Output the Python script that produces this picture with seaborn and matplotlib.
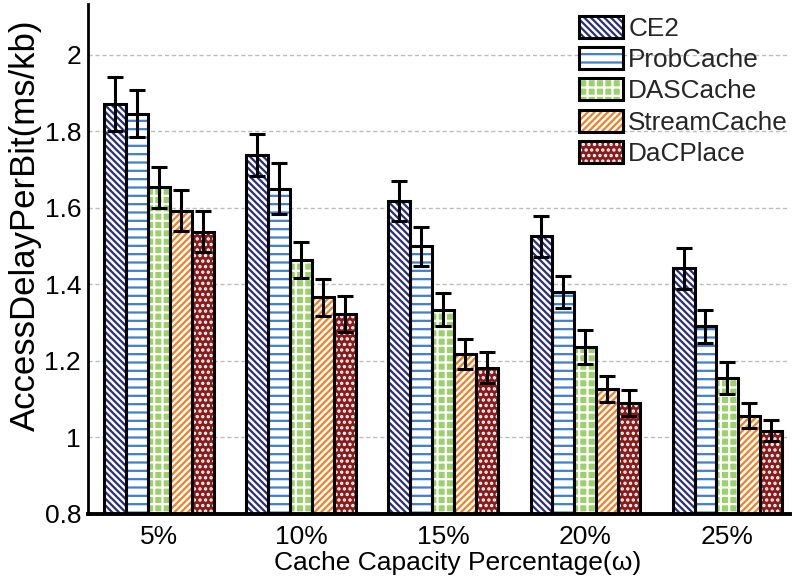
import matplotlib
matplotlib.use("Agg")
import matplotlib.pyplot as plt
from matplotlib.patches import Patch, Rectangle
from matplotlib.ticker import FuncFormatter
import pandas as pd
import seaborn as sns

# ---- data -------------------------------------------------------------
capacities = ["5%", "10%", "15%", "20%", "25%"]
schemes = ["CE2", "ProbCache", "DASCache", "StreamCache", "DaCPlace"]

ce2 = [1.872, 1.739, 1.618, 1.526, 1.442]
ce2_err = [0.070, 0.055, 0.053, 0.054, 0.054]
probcache = [1.846, 1.650, 1.500, 1.380, 1.290]
probcache_err = [0.061, 0.067, 0.051, 0.043, 0.043]
dascache = [1.654, 1.464, 1.334, 1.236, 1.155]
dascache_err = [0.054, 0.048, 0.044, 0.044, 0.041]
streamcache = [1.593, 1.366, 1.219, 1.126, 1.057]
streamcache_err = [0.054, 0.049, 0.039, 0.034, 0.033]
dacplace = [1.538, 1.323, 1.182, 1.089, 1.018]
dacplace_err = [0.053, 0.047, 0.041, 0.034, 0.028]

y_ticks = [0.8, 1.0, 1.2, 1.4, 1.6, 1.8, 2.0]

values = [ce2, probcache, dascache, streamcache, dacplace]
errors = [ce2_err, probcache_err, dascache_err, streamcache_err, dacplace_err]

# fill colour, hatch pattern, hatch colour for each scheme
styles = {
    "CE2":         ("white",   "\\" * 5, "#2A2D7C"),
    "ProbCache":   ("white",   "--",     "#3F7FCB"),
    "DASCache":    ("#9CD06B", "++",     "white"),
    "StreamCache": ("white",   "/" * 5,  "#F47F22"),
    "DaCPlace":    ("#8B1A1A", "...",    "white"),
}

rows = []
for name, vals in zip(schemes, values):
    for cap, v in zip(capacities, vals):
        rows.append({"capacity": cap, "scheme": name, "delay": v})
df = pd.DataFrame(rows)

# ---- figure -----------------------------------------------------------
sns.set_theme(style="white")
plt.rcParams["font.family"] = ["Liberation Sans", "DejaVu Sans"]
plt.rcParams["hatch.linewidth"] = 1.6

fig, ax = plt.subplots(figsize=(7.93, 5.8), dpi=100)
fig.subplots_adjust(left=0.111, right=0.996, bottom=0.114, top=0.993)

sns.barplot(data=df, x="capacity", y="delay", hue="scheme",
            order=capacities, hue_order=schemes, width=0.77,
            errorbar=None, legend=False, ax=ax)

for name, container, errs in zip(schemes, ax.containers, errors):
    face, hatch, hcol = styles[name]
    xs, ys = [], []
    for bar in container:
        bar.set_facecolor(face)
        bar.set_edgecolor(hcol)
        bar.set_hatch(hatch)
        bar.set_linewidth(0)
        ax.add_patch(Rectangle(bar.get_xy(), bar.get_width(), bar.get_height(),
                               fill=False, edgecolor="black", linewidth=2.2,
                               zorder=bar.get_zorder() + 0.1))
        xs.append(bar.get_x() + bar.get_width() / 2)
        ys.append(bar.get_height())
    ax.errorbar(xs, ys, yerr=errs, fmt="none", ecolor="black",
                elinewidth=2.2, capsize=6, capthick=2.2, zorder=5)

ax.set_ylim(0.8, 2.133)
ax.set_xlim(-0.5, 4.44)
ax.set_yticks(y_ticks)
ax.yaxis.set_major_formatter(FuncFormatter(lambda v, _: f"{v:g}"))
ax.set_axisbelow(True)
ax.grid(axis="y", linestyle=(0, (3, 2)), color="#BDBDBD", linewidth=1)
ax.grid(axis="x", visible=False)

for side in ("top", "right"):
    ax.spines[side].set_visible(False)
ax.spines["left"].set_linewidth(2)
ax.spines["bottom"].set_linewidth(2.8)
for side in ("left", "bottom"):
    ax.spines[side].set_color("black")

ax.tick_params(axis="both", length=0, labelsize=19, colors="black")
ax.tick_params(axis="y", pad=5)
ax.tick_params(axis="x", pad=8)

ax.set_xlabel("Cache Capacity Percentage(ω)", fontsize=19, color="black")
ax.set_ylabel("AccessDelayPerBit(ms/kb)", fontsize=25, color="black")
ax.xaxis.set_label_coords(0.526, -0.072)
ax.yaxis.set_label_coords(-0.066, 0.567)

handles = []
for name in schemes:
    face, hatch, hcol = styles[name]
    handles.append((Patch(facecolor=face, edgecolor=hcol, hatch=hatch, linewidth=0),
                    Patch(facecolor="none", edgecolor="black", linewidth=2.2)))
ax.legend(handles, schemes, loc="upper left", bbox_to_anchor=(0.683, 1.0),
          frameon=False, fontsize=18.8, handlelength=1.68, handleheight=0.92,
          labelspacing=0.24, handletextpad=0.2, borderaxespad=0.2,
          borderpad=0.25)

fig.savefig("out.png", dpi=100)
